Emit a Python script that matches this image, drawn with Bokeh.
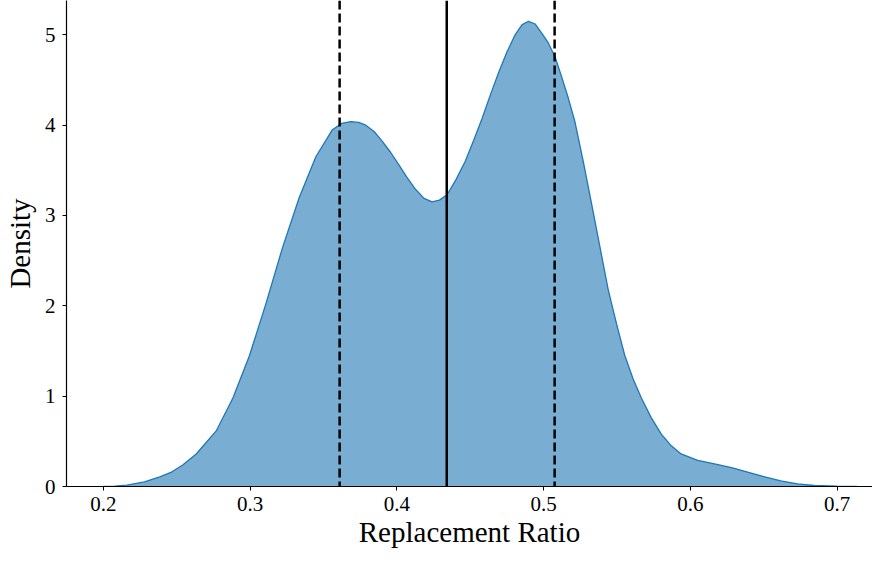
from bokeh.plotting import figure
from bokeh.models import Span, FixedTicker, Range1d
from bokeh.embed import file_html
from bokeh.resources import INLINE

# KDE of replacement ratio
ratio = [0.200, 0.208, 0.216, 0.228, 0.2385, 0.2465, 0.2543, 0.2633, 0.2769, 0.2883,
         0.2996, 0.3109, 0.3222, 0.3335, 0.3448, 0.3561, 0.3625, 0.3686, 0.3740, 0.3788,
         0.3845, 0.3901, 0.3957, 0.4014, 0.4070, 0.4127, 0.4185, 0.4240, 0.4290, 0.4342,
         0.4404, 0.4466, 0.4523, 0.4580, 0.4636, 0.4693, 0.4750, 0.4806, 0.4852, 0.4897,
         0.4942, 0.4987, 0.5032, 0.5077, 0.5122, 0.5168, 0.5213, 0.5270, 0.5327, 0.5384,
         0.5440, 0.5497, 0.5553, 0.5610, 0.5666, 0.5734, 0.5802, 0.5870, 0.5937, 0.6050,
         0.6164, 0.6280, 0.6390, 0.6500, 0.6616, 0.6730, 0.6843, 0.7000, 0.7137]
density = [0.0, 0.005, 0.015, 0.05, 0.106, 0.16, 0.24, 0.36, 0.615, 0.98,
           1.45, 2.03, 2.65, 3.20, 3.65, 3.95, 4.02, 4.04, 4.03, 4.00,
           3.93, 3.82, 3.70, 3.56, 3.42, 3.29, 3.19, 3.15, 3.17, 3.23,
           3.40, 3.60, 3.83, 4.07, 4.33, 4.58, 4.81, 5.00, 5.11, 5.15,
           5.12, 5.02, 4.91, 4.76, 4.54, 4.30, 4.04, 3.60, 3.13, 2.65,
           2.18, 1.80, 1.45, 1.19, 0.98, 0.76, 0.58, 0.45, 0.36, 0.29,
           0.25, 0.21, 0.16, 0.11, 0.062, 0.030, 0.011, 0.003, 0.0]

lower_q = 0.361
median = 0.434
upper_q = 0.5075

x_ticks = [0.2, 0.3, 0.4, 0.5, 0.6, 0.7]
y_ticks = [0, 1, 2, 3, 4, 5]

FONT = "Liberation Serif"

p = figure(width=872, height=550, output_backend="svg", toolbar_location=None,
           x_range=Range1d(0.1749, 0.7241), y_range=Range1d(0, 5.38),
           min_border_left=63, min_border_right=0, min_border_top=0, min_border_bottom=57)
p.outline_line_color = None
p.grid.grid_line_color = None
p.background_fill_color = "white"

p.varea(x=ratio, y1=[0] * len(ratio), y2=density, fill_color="#1f77b4", fill_alpha=0.6)
p.line(ratio, density, line_color="#1f77b4", line_width=1.3)

p.add_layout(Span(location=lower_q, dimension="height", line_color="black",
                  line_width=2.5, line_dash="9 4"))
p.add_layout(Span(location=median, dimension="height", line_color="black", line_width=2.5))
p.add_layout(Span(location=upper_q, dimension="height", line_color="black",
                  line_width=2.5, line_dash="9 4"))

for ax in (p.xaxis[0], p.yaxis[0]):
    ax.axis_line_color = "black"
    ax.axis_line_width = 1.2
    ax.major_tick_line_color = "black"
    ax.major_tick_out = 4
    ax.major_tick_in = 0
    ax.minor_tick_line_color = None
    ax.major_label_text_font = FONT
    ax.major_label_text_font_size = "21px"
    ax.major_label_text_color = "black"
    ax.axis_label_text_font = FONT
    ax.axis_label_text_font_size = "29px"
    ax.axis_label_text_font_style = "normal"
    ax.axis_label_text_color = "black"

p.xaxis[0].ticker = FixedTicker(ticks=x_ticks)
p.yaxis[0].ticker = FixedTicker(ticks=y_ticks)
p.xaxis[0].axis_label = "Replacement Ratio"
p.yaxis[0].axis_label = "Density"
p.xaxis[0].major_label_standoff = 6
p.xaxis[0].axis_label_standoff = 2
p.yaxis[0].major_label_standoff = 7
p.yaxis[0].axis_label_standoff = 6

open("out.html", "w").write(file_html(p, INLINE))
